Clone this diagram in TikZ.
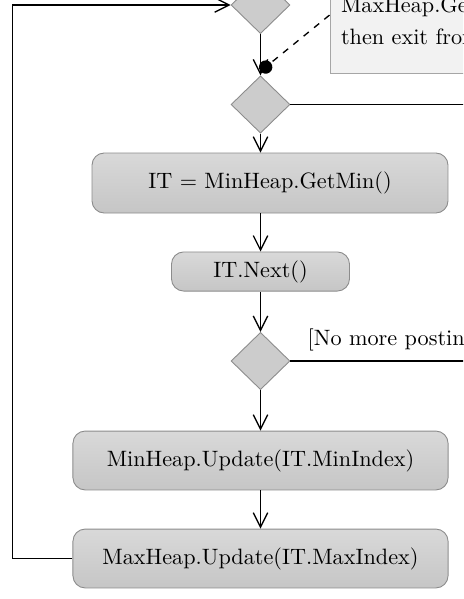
\documentclass[tikz,border=0pt]{standalone}
\usepackage{xcolor}
\usepackage{tikz}
\usetikzlibrary{arrows.meta,shapes.geometric,calc}

\begin{document}
\begin{tikzpicture}[x=0.45pt, y=-0.45pt,
  flow/.style={line width=0.6pt, -{Straight Barb[length=6.5pt, width=6.5pt]}},
  actbox/.style={draw=black!45, rounded corners=5.5pt, top color=gray!30, bottom color=gray!45, align=center, minimum height=26.5pt},
  decide/.style={diamond, draw=black!45, fill=gray!40, inner sep=0pt, minimum width=26.5pt, minimum height=25.8pt},
  notebox/.style={draw=black!35, fill=gray!10, align=left, anchor=south west, text depth=0pt, inner xsep=5pt, inner ysep=13pt, font=\linespread{1.2}\selectfont}]
  \useasboundingbox (0,0) rectangle (463,599);
  \clip (0,0) rectangle (463,599);
  \coordinate (rightedge) at (490,0);
  \node[decide] (dec1) at (260.5,5) {};
  \node[decide] (dec2) at (260.5,104.5) {};
  \node[actbox, minimum width=160.2pt, minimum height=27pt] (getmin) at (270,183) {IT = MinHeap.GetMin()};
  \node[actbox, minimum width=80.1pt, minimum height=17.6pt] (next) at (260.5,271.5) {IT.Next()};
  \node[decide] (dec3) at (260.5,361) {};
  \node[actbox, minimum width=168.8pt] (minupd) at (260.5,460.5) {MinHeap.Update(IT.MinIndex)};
  \node[actbox, minimum width=168.8pt] (maxupd) at (260.5,558.5) {MaxHeap.Update(IT.MaxIndex)};
  \node[notebox] (note) at (329.5,74) {MaxHeap.GetMax()\\then exit from loop};
  \node[anchor=base west, inner sep=0pt] (guard) at ([xshift=7.6pt, yshift=7.2pt]dec3.east) {[No more postings]};
  \coordinate (join) at ($(dec1.south)!0.9!(dec2.north)$);
  \draw[flow] (dec1) -- (dec2);
  \draw[flow] (dec2) -- (dec2 |- getmin.north);
  \draw[flow] (dec2 |- getmin.south) -- (next);
  \draw[flow] (next) -- (dec3);
  \draw[flow] (dec3) -- (minupd);
  \draw[flow] (minupd) -- (maxupd);
  \draw[flow] (maxupd.west) -- ++(-60,0) |- (dec1.west);
  \draw[line width=0.6pt] (dec2.east) -- (dec2.east -| rightedge);
  \draw[line width=0.6pt] (dec3.east) -- (dec3.east -| rightedge);
  \draw[line width=0.6pt, dashed, -{Circle[length=6pt]}] ([yshift=26.5pt]note.south west) -- (join);
\end{tikzpicture}
\end{document}
